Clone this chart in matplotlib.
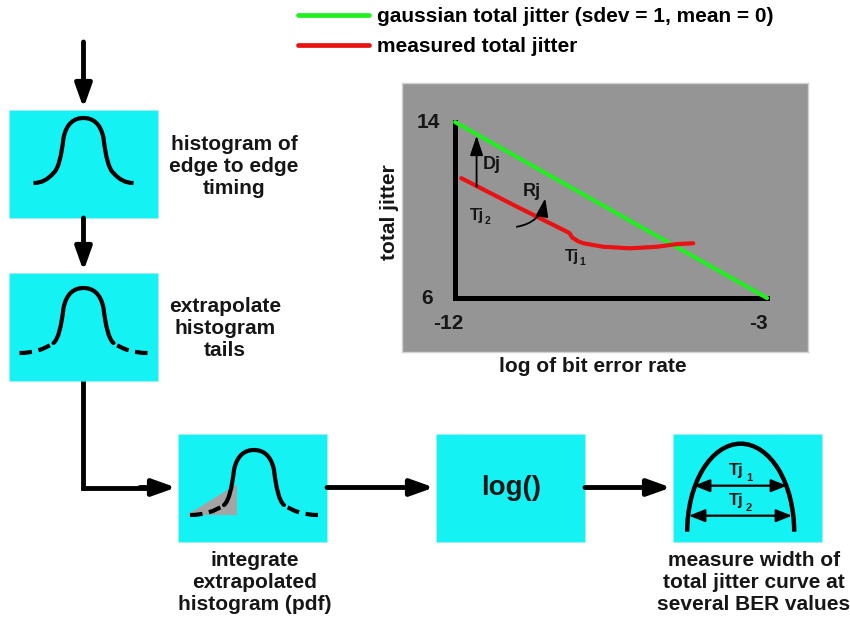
import matplotlib
matplotlib.use("Agg")
import matplotlib.pyplot as plt
from matplotlib.path import Path
from matplotlib.patches import PathPatch, Rectangle, Arc, Polygon

plt.rcParams['font.family'] = ['Liberation Sans', 'DejaVu Sans']
plt.rcParams['font.weight'] = 'bold'

# jitter chart data: log10(BER) vs total jitter
ber_gauss = [-12, -3]
tj_gauss = [14, 6]
ber_meas = [-11.82, -10.3, -8.78, -8.70, -8.62, -8.45, -8.3, -7.72, -6.95, -6.18, -5.61, -5.13]
tj_meas = [11.45, 10.22, 9.02, 8.95, 8.75, 8.58, 8.49, 8.33, 8.26, 8.33, 8.45, 8.49]
x_ticks = [-12, -3]
y_ticks = [14, 6]
legend_labels = ['gaussian total jitter (sdev = 1, mean = 0)', 'measured total jitter']

# flow chart text
box_labels = ['histogram of\nedge to edge\ntiming',
              'extrapolate\nhistogram\ntails',
              'integrate\nextrapolated\nhistogram (pdf)',
              'log()',
              'measure width of\ntotal jitter curve at\nseveral BER values']

CYAN = '#15F2F4'
TXT = '#161616'
GREEN = '#22EE22'
RED = '#E81212'

fig = plt.figure(figsize=(8.5, 6.23), dpi=100)
ax = fig.add_axes([0, 0, 1, 1])
ax.set_xlim(0, 850)
ax.set_ylim(623, 0)
ax.axis('off')

# boxes (x, y of top left corner)
box_w, box_h = 149, 108
boxes = [(9, 110), (9, 273), (178, 434), (436, 434), (673, 434)]
for bx, by in boxes:
    ax.add_patch(Rectangle((bx, by), box_w, box_h, facecolor=CYAN,
                           edgecolor='#A8EEF0', lw=0.6, zorder=1))


def bezier(pts):
    codes = [Path.MOVETO] + [Path.CURVE4] * (len(pts) - 1)
    return Path(pts, codes)


def bell(cx, base, tail, dashed):
    # bell icon from cubic bezier pieces: two tails + the centre hump
    c1 = tail - 0.4 * (tail - 30)
    c2 = 30 + 0.28 * (tail - 30)
    ls = (0, (3, 1.6)) if dashed else '-'
    for s in (-1, 1):
        pts = [(cx + s * tail, base), (cx + s * c1, base),
               (cx + s * c2, base - 3.5), (cx + s * 30, base - 10)]
        ax.add_patch(PathPatch(bezier(pts), fill=False, lw=3, linestyle=ls,
                               edgecolor='black', capstyle='butt', zorder=3))
    mid = [(cx - 30, base - 10), (cx - 25, base - 14), (cx - 22, base - 28), (cx - 20, base - 45),
           (cx - 17, base - 60), (cx - 9, base - 65), (cx, base - 65),
           (cx + 9, base - 65), (cx + 17, base - 60), (cx + 20, base - 45),
           (cx + 22, base - 28), (cx + 25, base - 14), (cx + 30, base - 10)]
    ax.add_patch(PathPatch(bezier(mid), fill=False, lw=3, edgecolor='black',
                           capstyle='round', zorder=3))


# integrated area under the left tail
ax.add_patch(Polygon([(187, 515), (237, 515), (237, 484)], closed=True,
                     facecolor='#A4A4A4', edgecolor='none', zorder=2))
bell(83.5, 183, 50, False)
bell(83.5, 353, 64, True)
bell(254, 515, 64, True)

# arch in last box
ax.add_patch(Arc((740.7, 531.7), 107, 176, theta1=180, theta2=360, lw=3.2,
                 color='black', zorder=3))
for yy, lo, hi, sub in [(485.7, 694, 787, '1'), (515.7, 689, 792, '2')]:
    ax.annotate('', xy=(lo, yy), xytext=(hi, yy),
                arrowprops=dict(arrowstyle='<|-|>,head_length=0.8,head_width=0.32',
                                mutation_scale=12, lw=1.6, color='black',
                                shrinkA=0, shrinkB=0), zorder=4)
    ax.text(736, yy - 15, 'Tj', fontsize=12, ha='center', va='center', color=TXT, zorder=4)
    ax.text(749, yy - 8, sub, fontsize=8, ha='center', va='center', color=TXT, zorder=4)

# flow arrows
arrow_kw = dict(arrowstyle='-|>,head_length=1.4,head_width=0.5', mutation_scale=10,
                lw=3.5, color='black', shrinkA=0, shrinkB=0)
ax.annotate('', xy=(83.5, 108), xytext=(83.5, 42), arrowprops=arrow_kw)
ax.annotate('', xy=(83.5, 271), xytext=(83.5, 218), arrowprops=arrow_kw)
ax.plot([83.5, 83.5, 150], [381, 487.5, 487.5], color='black', lw=3.5,
        solid_joinstyle='miter', solid_capstyle='butt')
ax.annotate('', xy=(176, 487.5), xytext=(140, 487.5), arrowprops=arrow_kw)
ax.annotate('', xy=(434, 487.5), xytext=(327, 487.5), arrowprops=arrow_kw)
ax.annotate('', xy=(671, 487.5), xytext=(585, 487.5), arrowprops=arrow_kw)

# flow chart labels
ax.text(234, 166, box_labels[0], fontsize=15, ha='center', va='center',
        multialignment='center', color=TXT)
ax.text(225, 328, box_labels[1], fontsize=15, ha='center', va='center',
        multialignment='center', color=TXT)
ax.text(255, 583, box_labels[2], fontsize=15, ha='center', va='center',
        multialignment='center', color=TXT)
ax.text(511, 488, box_labels[3], fontsize=20, ha='center', va='center', color=TXT)
ax.text(754, 582, box_labels[4], fontsize=15, ha='center', va='center',
        multialignment='center', color=TXT)

# jitter chart
ax.text(593, 367, 'log of bit error rate', fontsize=15, ha='center', va='center', color=TXT)
ax.text(390, 212, 'total jitter', fontsize=15, ha='center', va='center',
        rotation=90, color=TXT)

ax2 = fig.add_axes([401.7 / 850, 1 - 351.7 / 623, 406.6 / 850, 269 / 623])
ax2.set_facecolor('#959595')
ax2.set_xlim(-13.54, -1.81)
ax2.set_ylim(3.56, 15.79)
ax2.set_xticks([])
ax2.set_yticks([])
for sp in ax2.spines.values():
    sp.set_color('#D2D2D2')
    sp.set_linewidth(1)

ax2.plot([x_ticks[0], x_ticks[0], x_ticks[1]], [y_ticks[0], y_ticks[1], y_ticks[1]],
         color='black', lw=3.6, solid_joinstyle='miter', zorder=2)
l_g, = ax2.plot(ber_gauss, tj_gauss, color=GREEN, lw=3, solid_capstyle='round',
                zorder=3, label=legend_labels[0])
l_r, = ax2.plot(ber_meas, tj_meas, color=RED, lw=3, solid_capstyle='round',
                zorder=3, label=legend_labels[1])

ax2.text(-12.43, y_ticks[0], str(y_ticks[0]), fontsize=15, ha='right', va='center', color=TXT)
ax2.text(-12.63, y_ticks[1], str(y_ticks[1]), fontsize=15, ha='right', va='center', color=TXT)
ax2.text(-12.19, 4.86, str(x_ticks[0]), fontsize=15, ha='center', va='center', color=TXT)
ax2.text(-3.25, 4.86, str(x_ticks[1]), fontsize=15, ha='center', va='center', color=TXT)

ax2.annotate('', xy=(-11.38, 13.38), xytext=(-11.38, 11.06),
             arrowprops=dict(arrowstyle='-|>,head_length=1.2,head_width=0.4',
                             mutation_scale=10, lw=1.3, color='black',
                             shrinkA=0, shrinkB=0))
ax2.text(-10.95, 12.05, 'Dj', fontsize=13, ha='center', va='center', color=TXT)
ax2.annotate('', xy=(-9.40, 10.53), xytext=(-10.22, 9.24),
             arrowprops=dict(arrowstyle='-|>,head_length=1.1,head_width=0.38',
                             mutation_scale=10, lw=1.3, color='black',
                             shrinkA=0, shrinkB=0, connectionstyle='arc3,rad=0.35'))
ax2.text(-9.79, 10.83, 'Rj', fontsize=13, ha='center', va='center', color=TXT)
ax2.text(-11.38, 9.77, 'Tj', fontsize=11.5, ha='center', va='center', color=TXT)
ax2.text(-11.06, 9.5, '2', fontsize=7.5, ha='center', va='center', color=TXT)
ax2.text(-8.64, 7.88, 'Tj', fontsize=11.5, ha='center', va='center', color=TXT)
ax2.text(-8.32, 7.65, '1', fontsize=7.5, ha='center', va='center', color=TXT)

leg = fig.legend(handles=[l_g, l_r], labels=legend_labels, loc='upper left',
                 bbox_to_anchor=(298 / 850, 1 - 7 / 623), frameon=False, fontsize=15,
                 handlelength=3.4, handletextpad=0.4, labelspacing=0.55,
                 borderpad=0, borderaxespad=0)
for h in leg.get_lines():
    h.set_linewidth(3.4)

fig.savefig('out.png', dpi=100)
